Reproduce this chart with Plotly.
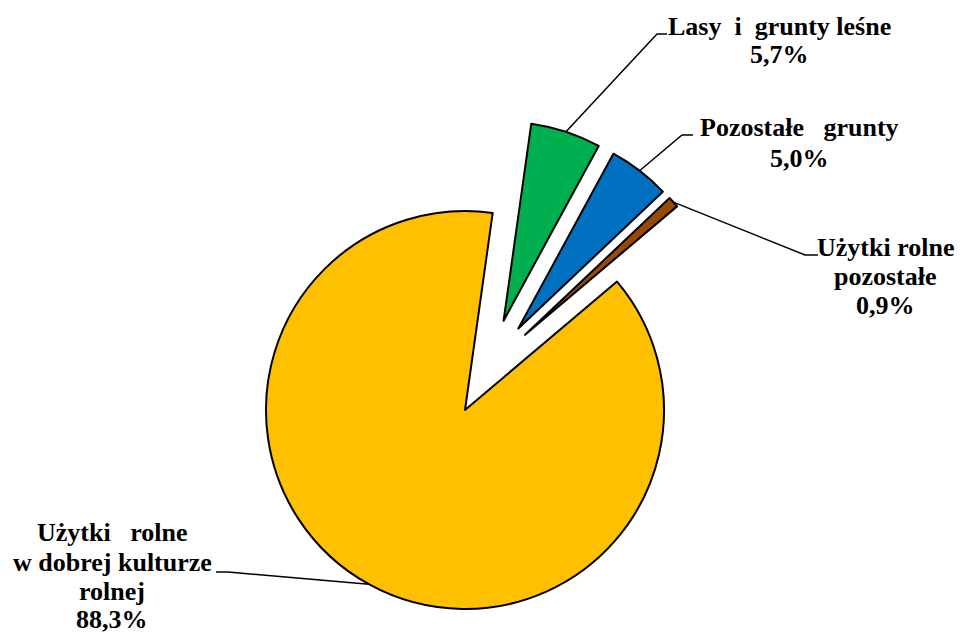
import math
import plotly.graph_objects as go

# ---- data ----
categories = ["Lasy i grunty leśne", "Pozostałe grunty",
              "Użytki rolne pozostałe", "Użytki rolne w dobrej kulturze rolnej"]
values = [5.7, 5.0, 0.9, 88.3]
label_lines = [
    ["Lasy\u00a0\u00a0i\u00a0\u00a0grunty leśne", "5,7%"],
    ["Pozostałe\u00a0\u00a0\u00a0grunty", "5,0%"],
    ["Użytki rolne", "pozostałe", "0,9%"],
    ["Użytki\u00a0\u00a0\u00a0rolne", "w dobrej kulturze", "rolnej", "88,3%"],
]

# ---- style / layout constants ----
colors = ["#00B050", "#0070C0", "#984807", "#FFC000"]
OFF = 8                       # page body margin
W, H = 955, 625               # figure size
R = 199.0
ROT = 8.0
C_MAIN = (465.0, 410.0)       # window px: centre of the unexploded big slice
C_SMALL = (488.0, 368.0)      # window px: common shift of the small slices
PULL = 0.25
FONT = dict(family="Liberation Serif", size=26, color="black")


def px2paper(x, y):
    return (x - OFF) / W, 1 - (y - OFF) / H


def domain_for(c, pull):
    half = R * (1 + pull)
    x0, y1 = px2paper(c[0] - half, c[1] - half)
    x1, y0 = px2paper(c[0] + half, c[1] + half)
    return dict(x=[x0, x1], y=[y0, y1])


n = len(values)
big = [False, False, False, True]

fig = go.Figure()
fig.add_trace(go.Pie(
    labels=categories, values=values, sort=False, direction="clockwise",
    rotation=ROT, textinfo="none", hoverinfo="label+percent",
    marker=dict(colors=[c if b else "rgba(0,0,0,0)" for c, b in zip(colors, big)],
                line=dict(color="black", width=[2 if b else 0 for b in big])),
    domain=domain_for(C_MAIN, 0), showlegend=False,
))
fig.add_trace(go.Pie(
    labels=categories, values=values, sort=False, direction="clockwise",
    rotation=ROT, textinfo="none", hoverinfo="label+percent",
    pull=[0 if b else PULL for b in big],
    marker=dict(colors=["rgba(0,0,0,0)" if b else c for c, b in zip(colors, big)],
                line=dict(color="black", width=[0 if b else 2 for b in big])),
    domain=domain_for(C_SMALL, PULL), showlegend=False,
))

# slice mid angles
total = sum(values)
mids = []
cum = 0
for v in values:
    a0 = ROT + 360 * cum / total
    cum += v
    a1 = ROT + 360 * cum / total
    mids.append((a0 + a1) / 2)


def u(a):
    r = math.radians(a)
    return math.sin(r), -math.cos(r)


anchors = []
for i in range(n):
    ux, uy = u(mids[i])
    if big[i]:
        cx, cy = C_MAIN
    else:
        cx = C_SMALL[0] + PULL * R * ux
        cy = C_SMALL[1] + PULL * R * uy
    anchors.append((cx + R * ux, cy + R * uy))

# leader elbows / ends and label placement (window pixels)
elbows = [(657, 34), (682, 135), (805, 255), (228, 572)]
ends = [(667, 34), (693, 135), (818, 255), (216, 572)]
label_x = [779, 799, 885, 112]
label_baselines = [[35, 63], [136, 167], [256, 285, 314], [541, 571, 600, 628]]

shapes = []
for i in range(n):
    pts = [px2paper(*anchors[i]), px2paper(*elbows[i]), px2paper(*ends[i])]
    path = "M {} {} L {} {} L {} {}".format(pts[0][0], pts[0][1], pts[1][0], pts[1][1],
                                           pts[2][0], pts[2][1])
    shapes.append(dict(type="path", xref="paper", yref="paper", path=path,
                       line=dict(color="black", width=1.5)))

annotations = []
for i in range(n):
    for line, bl in zip(label_lines[i], label_baselines[i]):
        x, y = px2paper(label_x[i], bl - 9)
        annotations.append(dict(text="<b>" + line + "</b>", x=x, y=y,
                                xref="paper", yref="paper", xanchor="center",
                                yanchor="middle", showarrow=False, font=FONT,
                                align="center", borderpad=0))

fig.update_layout(width=W, height=H, margin=dict(l=0, r=0, t=0, b=0),
                  paper_bgcolor="white", plot_bgcolor="white",
                  shapes=shapes, annotations=annotations)
fig.write_html("out.html")
